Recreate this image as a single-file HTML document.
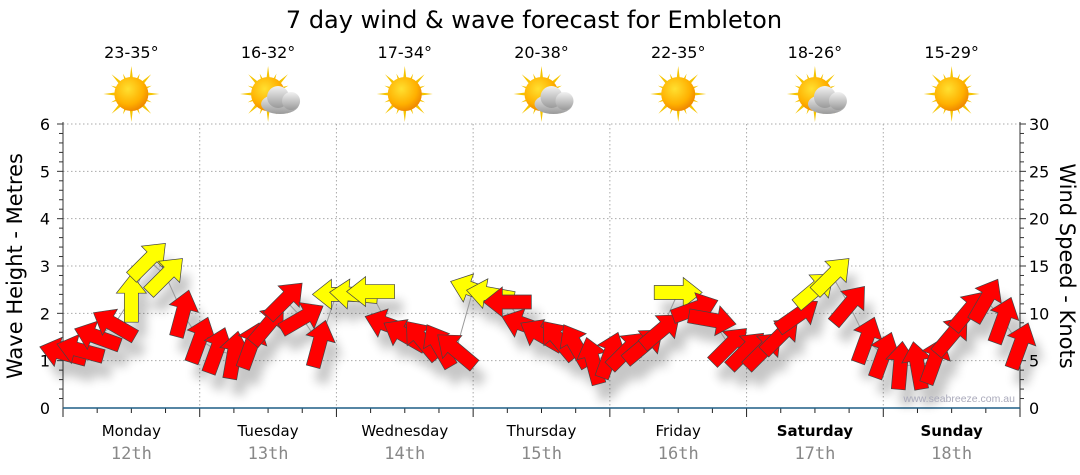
<!DOCTYPE html>
<html><head><meta charset="utf-8"><style>
body{margin:0;background:#fff;}
svg{display:block;font-family:"Liberation Sans",sans-serif;}
</style></head><body>
<svg id="chart" width="1080" height="475" viewBox="0 0 1080 475">
<defs>
<filter id="sh" x="-50%" y="-50%" width="200%" height="200%"><feGaussianBlur stdDeviation="5"/></filter>
<radialGradient id="sunG" cx="40%" cy="35%" r="65%"><stop offset="0" stop-color="#ffe030"/><stop offset="0.7" stop-color="#ffb000"/><stop offset="1" stop-color="#f08a00"/></radialGradient>
<linearGradient id="cloudG" x1="0" y1="0" x2="0" y2="1"><stop offset="0" stop-color="#f2f2f2"/><stop offset="1" stop-color="#9a9a9a"/></linearGradient>
</defs>
<text x="534" y="28" text-anchor="middle" font-size="24" font-family="DejaVu Sans, sans-serif">7 day wind &amp; wave forecast for Embleton</text>
<g id="grid"></g>
<g id="icons"></g>
<g id="axes"></g>
<g id="shadows" filter="url(#sh)" opacity="0.22"></g>
<polyline id="trail" fill="none" stroke="#999" stroke-width="1"/>
<g id="arrows"></g>
<text x="1015" y="402" text-anchor="end" font-size="10.5" fill="#aab">www.seabreeze.com.au</text>
<text transform="translate(22,266) rotate(-90)" text-anchor="middle" font-size="21" font-family="DejaVu Sans, sans-serif">Wave Height - Metres</text>
<text transform="translate(1060,266) rotate(90)" text-anchor="middle" font-size="21" font-family="DejaVu Sans, sans-serif">Wind Speed - Knots</text>
</svg>
<script>
const days=["Monday","Tuesday","Wednesday","Thursday","Friday","Saturday","Sunday"];
const dates=["12th","13th","14th","15th","16th","17th","18th"];
const temps=["23-35°","16-32°","17-34°","20-38°","22-35°","18-26°","15-29°"];
const cloudy=[0,1,0,1,0,1,0];
const waveTicks=[0,1,2,3,4,5,6];
const windTicks=[0,5,10,15,20,25,30];
const hours=[0,3,6,9,12,15,18,21,24,27,30,33,36,39,42,45,48,51,54,57,60,63,66,69,72,75,78,81,84,87,90,93,96,99,102,105,108,111,114,117,120,123,126,129,132,135,138,141,144,147,150,153,156,159,162,165,168];
const speeds=[5.8,6.1,7.5,8.8,11.6,15.6,14,10,7.2,6.1,5.6,6.6,8.8,11.4,9.5,6.8,12,12,12.3,8.8,7.7,7.2,6.6,6.1,12.5,12,11.2,8.8,7.7,7.2,6.6,5,5.6,6.1,6.6,8.2,12.2,10.5,9.3,6.6,6.1,6.1,7.7,9.8,12.5,14,10.9,7.2,5.6,4.5,4.5,5,7.7,10.3,11.4,9.3,6.6];
const dirs=[285,285,290,300,0,45,45,15,20,20,10,20,40,45,60,15,270,275,270,290,300,320,330,310,290,280,270,290,300,320,330,345,20,45,50,50,90,70,100,45,45,45,45,55,50,45,40,20,20,5,350,20,40,40,30,20,20];
const yellow=[0,0,0,0,1,1,1,0,0,0,0,0,0,0,0,0,1,1,1,0,0,0,0,0,1,1,0,0,0,0,0,0,0,0,0,0,1,0,0,0,0,0,0,0,1,1,0,0,0,0,0,0,0,0,0,0,0];

const NS="http://www.w3.org/2000/svg";
const X0=63,X1=1020,Y0=408,Y1=124;
const xOf=h=>X0+(X1-X0)*h/168;
const yWave=m=>Y0-(Y0-Y1)*m/6;
const yWind=k=>Y0-(Y0-Y1)*k/30;
function mk(tag,attrs,parent){const e=document.createElementNS(NS,tag);for(const k in attrs)e.setAttribute(k,attrs[k]);parent.appendChild(e);return e;}
const grid=document.getElementById('grid'),axes=document.getElementById('axes'),icons=document.getElementById('icons');
waveTicks.forEach(m=>{
  if(m>0){const l=mk('line',{x1:X0,x2:X1,y1:yWave(m),y2:yWave(m),stroke:'#aaa','stroke-dasharray':'1.5,2.5'},grid);
  
  }
  const t=mk('text',{x:50,y:yWave(m)+6,'text-anchor':'end','font-size':16,'font-family':'DejaVu Sans, sans-serif'},axes);t.textContent=m;
  
  
});
for(let i=1;i<=30;i++){const y=yWave(i*0.2);const major=i%5==0;mk('line',{x1:X0-(major?6:4),x2:X0,y1:y,y2:y,stroke:'#333'},axes);}
for(let i=1;i<=30;i++){const y=yWind(i);const major=i%5==0;mk('line',{x1:X1,x2:X1+(major?6:4),y1:y,y2:y,stroke:'#333'},axes);}
windTicks.forEach(k=>{const t=mk('text',{x:1029,y:yWind(k)+6,'font-size':16,'font-family':'DejaVu Sans, sans-serif'},axes);t.textContent=k;
  
  });
for(let d=1;d<7;d++){const l=mk('line',{x1:xOf(d*24),x2:xOf(d*24),y1:Y1,y2:Y0,stroke:'#aaa','stroke-dasharray':'1.5,2.5'},grid);
  
  }
mk('line',{x1:X0,x2:X0,y1:Y1-2,y2:Y0,stroke:'#333'},axes);
mk('line',{x1:X1,x2:X1,y1:Y1-2,y2:Y0,stroke:'#333'},axes);
for(let h=0;h<=168;h+=6){const x=xOf(h);mk('line',{x1:x,x2:x,y1:Y0,y2:Y0+(h%24==0?9:5),stroke:'#222'},axes);}
mk('line',{x1:X0,x2:X1,y1:Y0,y2:Y0,stroke:'#1f5f86','stroke-width':1.5},axes);
days.forEach((d,i)=>{
  const cx=xOf(i*24+12);
  const t=mk('text',{x:cx,y:436,'text-anchor':'middle','font-size':15,'font-family':'DejaVu Sans, sans-serif','font-weight':i>=5?'bold':'normal'},axes);t.textContent=d;
  
  
  const t2=mk('text',{x:cx,y:459,'text-anchor':'middle','font-size':17,fill:'#888','font-family':'DejaVu Sans Mono, monospace'},axes);t2.textContent=dates[i];
  
  
  const t3=mk('text',{x:cx,y:58,'text-anchor':'middle','font-size':16,'font-family':'DejaVu Sans, sans-serif'},icons);t3.textContent=temps[i];
  
  
  const g=mk('g',{transform:`translate(${cx},94)`},icons);
  
  
  for(let a=0;a<16;a++){const L=a%2?22:28;mk('polygon',{points:`-3.5,0 3.5,0 0,-${L}`,fill:'#f5c400',transform:`rotate(${a*22.5})`},g);}
  mk('circle',{r:17,fill:'url(#sunG)'},g);
  if(cloudy[i]){const c=mk('g',{transform:'translate(12,7)'},g);
    mk('ellipse',{cx:0,cy:3,rx:19,ry:10,fill:'url(#cloudG)'},c);
    mk('circle',{cx:-2,cy:-4,r:11,fill:'url(#cloudG)'},c);
    mk('circle',{cx:11,cy:0,r:9,fill:'url(#cloudG)'},c);}
});
const pts='0,-24 15,-5 7,-5 7,24 -7,24 -7,-5 -15,-5';
const sh=document.getElementById('shadows'),ar=document.getElementById('arrows');
let line=[];
hours.forEach((h,i)=>{
  const x=xOf(h),y=yWind(speeds[i]);line.push(x+','+y);
  mk('polygon',{points:pts,fill:'#000',transform:`translate(${x+8},${y+16}) rotate(${dirs[i]})`},sh);
  const p=mk('polygon',{points:pts,fill:yellow[i]?'#ffff00':'#ff0000',stroke:'#444','stroke-width':0.7,transform:`translate(${x},${y}) rotate(${dirs[i]})`},ar);
  
  
});
document.getElementById('trail').setAttribute('points',line.join(' '));
</script>
</body></html>
